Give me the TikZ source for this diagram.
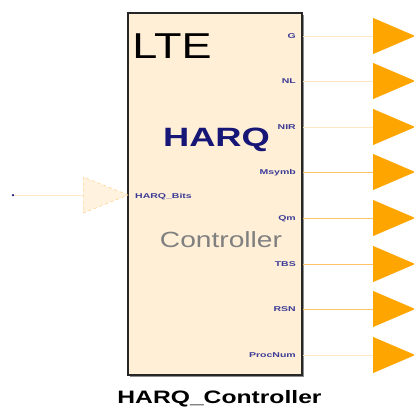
\documentclass[tikz,border=0pt]{standalone}
\usepackage{fontspec}
\setmainfont{Liberation Sans}
\usepackage{graphicx}
\usetikzlibrary{shapes.geometric,shadows}

\definecolor{blockfill}{RGB}{255,239,214}
\definecolor{portblue}{RGB}{60,60,150}
\definecolor{harqblue}{RGB}{22,22,118}
\definecolor{outorange}{RGB}{255,165,0}
\definecolor{wirepale}{RGB}{255,230,196}
\definecolor{wirestrong}{RGB}{255,196,105}

\begin{document}
\begin{tikzpicture}[x=1pt, y=-1pt,
    block/.style={draw=black!85, line width=1.6pt, fill=blockfill, minimum width=174pt, minimum height=362pt, inner sep=0pt,
      drop shadow={shadow xshift=1.6pt, shadow yshift=-1.6pt, fill=black!45, opacity=1}},
    outport/.style={isosceles triangle, isosceles triangle stretches, shape border rotate=0, fill=outorange, inner sep=0pt, minimum width=36pt, minimum height=42pt, anchor=west},
    inport/.style={isosceles triangle, isosceles triangle stretches, shape border rotate=0, draw=wirestrong, dashed, fill=blockfill!80, inner sep=0pt, minimum width=36pt, minimum height=45pt, anchor=west},
    portlabel/.style={font=\fontsize{7}{7}\selectfont\bfseries, text=portblue, inner sep=0pt},
    pale/.style={draw=wirepale, line width=0.8pt},
    strong/.style={draw=wirestrong, line width=0.8pt}
]
\useasboundingbox (0,0) rectangle (414,408);

% block
\node[block] (ctrl) at (215,194) {};
\node[anchor=base, inner sep=0pt] (lte) at (172,58) {\scalebox{1.25}[1]{\fontsize{36}{36}\selectfont LTE}};
\node[anchor=base, inner sep=0pt, text=harqblue] (harq) at (216.5,146) {\scalebox{1.37}[1]{\fontsize{26.5}{26.5}\selectfont\bfseries HARQ}};
\node[anchor=base, inner sep=0pt, text=black!50] (ctrltext) at (221,247) {\scalebox{1.28}[1]{\fontsize{22}{22}\selectfont Controller}};
\node[anchor=base, inner sep=0pt] (title) at (219.5,403) {\scalebox{1.37}[1]{\fontsize{18}{18}\selectfont\bfseries HARQ\_Controller}};

% input
\node[circle, fill=harqblue, inner sep=0pt, minimum size=2.5pt] (src) at (13,195) {};
\node[inport] (inbits) at (83,195) {};
\draw[pale] (src) -- (inbits.west);
\node[portlabel, anchor=base west] (lbits) at (135,198.5) {\scalebox{1.5}[1]{HARQ\_Bits}};

% outputs
\node[outport] (out-g) at (373,36) {};
\node[portlabel, anchor=base east] (l-g) at (296,38.5) {\scalebox{1.5}[1]{G}};
\draw[pale] (ctrl.east |- out-g.west) -- (out-g.west);

\node[outport] (out-nl) at (373,81) {};
\node[portlabel, anchor=base east] (l-nl) at (296,83.5) {\scalebox{1.5}[1]{NL}};
\draw[pale] (ctrl.east |- out-nl.west) -- (out-nl.west);

\node[outport] (out-nir) at (373,127) {};
\node[portlabel, anchor=base east] (l-nir) at (296,129.5) {\scalebox{1.5}[1]{NIR}};
\draw[pale] (ctrl.east |- out-nir.west) -- (out-nir.west);

\node[outport] (out-msymb) at (373,172) {};
\node[portlabel, anchor=base east] (l-msymb) at (296,174.5) {\scalebox{1.5}[1]{Msymb}};
\draw[strong] (ctrl.east |- out-msymb.west) -- (out-msymb.west);

\node[outport] (out-qm) at (373,218) {};
\node[portlabel, anchor=base east] (l-qm) at (296,220.5) {\scalebox{1.5}[1]{Qm}};
\draw[strong] (ctrl.east |- out-qm.west) -- (out-qm.west);

\node[outport] (out-tbs) at (373,264) {};
\node[portlabel, anchor=base east] (l-tbs) at (296,266.5) {\scalebox{1.5}[1]{TBS}};
\draw[strong] (ctrl.east |- out-tbs.west) -- (out-tbs.west);

\node[outport] (out-rsn) at (373,309) {};
\node[portlabel, anchor=base east] (l-rsn) at (296,311.5) {\scalebox{1.5}[1]{RSN}};
\draw[strong] (ctrl.east |- out-rsn.west) -- (out-rsn.west);

\node[outport] (out-procnum) at (373,355) {};
\node[portlabel, anchor=base east] (l-procnum) at (296,357.5) {\scalebox{1.5}[1]{ProcNum}};
\draw[pale] (ctrl.east |- out-procnum.west) -- (out-procnum.west);
\end{tikzpicture}
\end{document}
